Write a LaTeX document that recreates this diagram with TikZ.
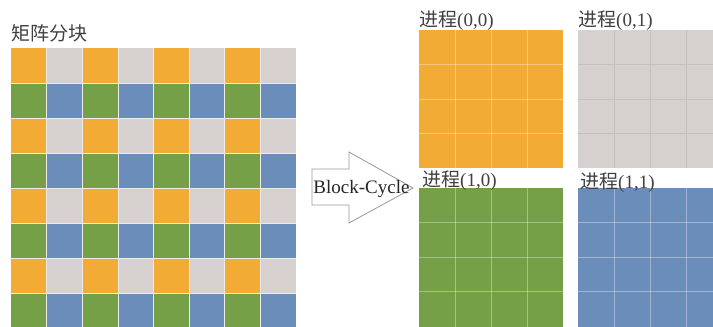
\documentclass[tikz,border=0pt]{standalone}
\usepackage{fontspec}
\setmainfont{Liberation Serif}
\newfontfamily\cjk{Noto Sans CJK SC}
\definecolor{cOr}{HTML}{F2AC36}
\definecolor{cGr}{HTML}{D6D1CF}
\definecolor{cGn}{HTML}{76A047}
\definecolor{cBl}{HTML}{6B8DBA}
\definecolor{cTx}{HTML}{404040}
\begin{document}
\begin{tikzpicture}[x=1pt,y=-1pt,
  lbl/.style={inner sep=0pt,anchor=base west,text=cTx,font=\fontsize{19}{19}\selectfont},
  cellline/.style={draw=white!85!gray,line width=0.5pt},
  gridw/.style={white,opacity=0.35,line width=0.8pt},
  gridg/.style={black!8!cGr,line width=0.8pt},
  arrowshape/.style={draw=gray!80,fill=white,line width=0.8pt,line join=miter}]
\useasboundingbox (0,0) rectangle (713,327);
\fill[white] (0,0) rectangle (713,327);
% left matrix
\node[lbl] (title) at (11,40) {\cjk 矩阵分块};
\foreach \r in {0,...,7}{
  \foreach \c in {0,...,7}{
    \pgfmathtruncatemacro{\re}{mod(\r,2)}
    \pgfmathtruncatemacro{\ce}{mod(\c,2)}
    \ifnum\re=0
      \ifnum\ce=0 \def\col{cOr}\else\def\col{cGr}\fi
    \else
      \ifnum\ce=0 \def\col{cGn}\else\def\col{cBl}\fi
    \fi
    \fill[\col] ({11+35.6*\c},{48+35*\r}) rectangle ({11+35.6*(\c+1)},{48+35*(\r+1)});
  }
}
\foreach \c in {1,...,7}{\draw[cellline] ({11+35.6*\c},48) -- ({11+35.6*\c},328);}
\foreach \r in {1,...,7}{\draw[cellline] (11,{48+35*\r}) -- (296,{48+35*\r});}
% arrow
\draw[arrowshape] (312,169) -- (349,169) -- (349,152) -- (413,188) -- (349,223) -- (349,205) -- (312,205) -- cycle;
\node[inner sep=0pt,anchor=base,text=black!85,font=\fontsize{19}{19}\selectfont] (bc) at (361.5,193) {Block-Cycle};
% process blocks
\fill[cOr] (419,30) rectangle (563,168);
\fill[cGr] (578,30) rectangle (722,168);
\fill[cGn] (419,188) rectangle (563,327);
\fill[cBl] (578,188) rectangle (722,327);
\foreach \k in {1,2,3}{
  \draw[gridw] ({419+36*\k},30) -- ({419+36*\k},168);
  \draw[gridw] (419,{30+34.5*\k}) -- (563,{30+34.5*\k});
  \draw[gridg] ({578+36*\k},30) -- ({578+36*\k},168);
  \draw[gridg] (578,{30+34.5*\k}) -- (722,{30+34.5*\k});
  \draw[gridw] ({419+36*\k},188) -- ({419+36*\k},327);
  \draw[gridw] (419,{188+34.5*\k}) -- (563,{188+34.5*\k});
  \draw[gridw] ({578+36*\k},188) -- ({578+36*\k},327);
  \draw[gridw] (578,{188+34.5*\k}) -- (722,{188+34.5*\k});
}
\node[lbl] (p00) at (419,26) {{\cjk 进程}(0,0)};
\node[lbl] (p01) at (578,26) {{\cjk 进程}(0,1)};
\node[lbl] (p10) at (422,186) {{\cjk 进程}(1,0)};
\node[lbl] (p11) at (580,188) {{\cjk 进程}(1,1)};
\end{tikzpicture}
\end{document}
